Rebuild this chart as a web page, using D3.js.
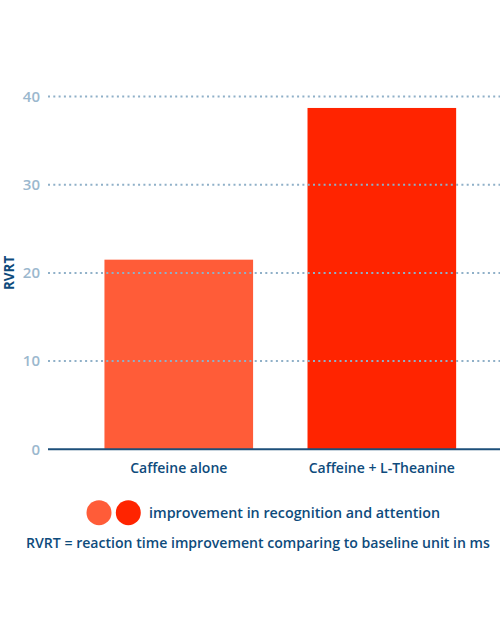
<!DOCTYPE html>
<html><head><meta charset="utf-8">
<script src="https://cdn.jsdelivr.net/npm/d3@7"></script>
<style>html,body{margin:0;padding:0;background:#fff;overflow:hidden}</style>
</head><body><svg id="c" width="500" height="641"></svg>
<script>
const categories = ["Caffeine alone", "Caffeine + L-Theanine"];
const values = [21.5, 38.7];
const barColors = ["#ff5c38", "#ff2400"];
const yTicks = [0, 10, 20, 30, 40];
const yLabel = "RVRT";
const legendText = "improvement in recognition and attention";
const footnote = "RVRT = reaction time improvement comparing to baseline unit in ms";

const svg = d3.select("#c");
const font = "'Open Sans', sans-serif";
const navy = "#0e4b7c";

const y = d3.scaleLinear().domain([0, 40]).range([449.3, 96.5]);
const x = d3.scaleBand().domain(categories).range([48, 512.6]).paddingInner(0.268).paddingOuter(0.278);

// bars
svg.append("g").selectAll("rect").data(values).join("rect")
  .attr("x", (d, i) => x(categories[i]))
  .attr("width", x.bandwidth())
  .attr("y", d => y(d))
  .attr("height", d => y(0) - y(d))
  .attr("fill", (d, i) => barColors[i]);

// axis ticks + grid
const yAxis = d3.axisLeft(y).tickValues(yTicks).tickSize(0).tickPadding(8);
const ga = svg.append("g").attr("transform", "translate(48,0)").call(yAxis);
ga.select(".domain").remove();
ga.selectAll("text").attr("font-family", font).attr("font-size", 15).attr("font-weight", 600).attr("fill", "#9bb8ce");
svg.append("g").selectAll("line").data(yTicks.filter(t => t > 0)).join("line")
  .attr("x1", 48).attr("x2", 500).attr("y1", d => y(d)).attr("y2", d => y(d))
  .attr("stroke", "#8fb0c8").attr("stroke-width", 2).attr("stroke-dasharray", "2,3.3");

// baseline
svg.append("line").attr("x1", 48).attr("x2", 500).attr("y1", y(0)).attr("y2", y(0))
  .attr("stroke", "#1d4f7a").attr("stroke-width", 2);

// x labels
svg.append("g").selectAll("text").data(categories).join("text")
  .attr("x", d => x(d) + x.bandwidth() / 2).attr("y", 473)
  .attr("text-anchor", "middle").attr("font-family", font).attr("font-size", 14).attr("font-weight", 600)
  .attr("fill", navy).text(d => d);

// y label
svg.append("text").attr("transform", `translate(14,${(y(0) + y(40)) / 2}) rotate(-90)`)
  .attr("text-anchor", "middle").attr("font-family", font).attr("font-size", 13.5).attr("font-weight", 700)
  .attr("fill", navy).text(yLabel);

// legend
svg.append("g").selectAll("circle").data(barColors).join("circle")
  .attr("cx", (d, i) => 99 + i * 29.3).attr("cy", 512.7).attr("r", 12.5).attr("fill", d => d);
svg.append("text").attr("x", 149).attr("y", 518).attr("font-family", font).attr("font-size", 14.3).attr("font-weight", 600)
  .attr("fill", navy).text(legendText);

svg.append("text").attr("x", 26).attr("y", 548).attr("font-family", font).attr("font-size", 14.1).attr("font-weight", 600)
  .attr("fill", navy).text(footnote);
</script></body></html>
